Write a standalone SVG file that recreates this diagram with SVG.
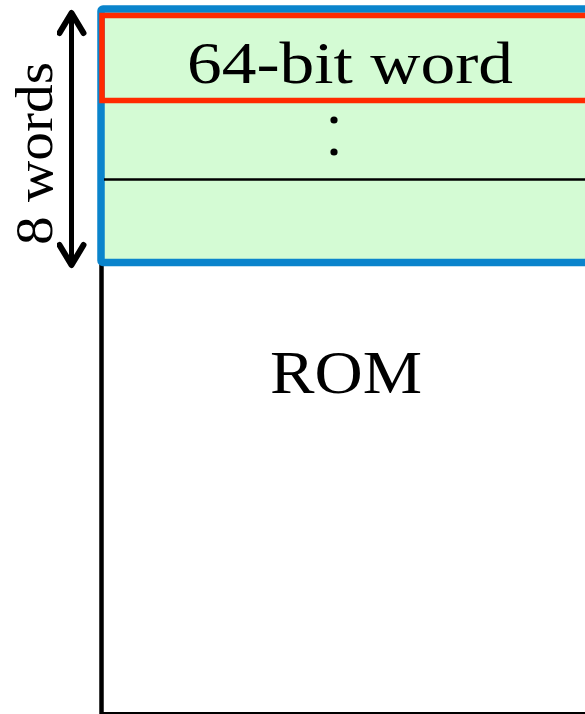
<svg xmlns="http://www.w3.org/2000/svg" width="585" height="714" viewBox="0 0 585 714">
  <style>
    .label { font-family: "Liberation Serif", "Times New Roman", serif; fill: #000; }
    .edge { fill: none; stroke: #000; }
  </style>
  <defs>
    <!-- open arrowhead, drawn pointing along +x -->
    <marker id="chevron" viewBox="0 0 28 30" refX="24" refY="15" markerWidth="28" markerHeight="30" markerUnits="userSpaceOnUse" orient="auto-start-reverse">
      <path d="M4,3 L24,15 L4,27" fill="none" stroke="#000" stroke-width="6" stroke-linecap="round" stroke-linejoin="round"/>
    </marker>
  </defs>
  <rect width="585" height="714" fill="#fff"/>

  <!-- ROM body outline -->
  <g id="rom">
    <line class="edge" x1="101.5" y1="262" x2="101.5" y2="714" stroke-width="4.5"/>
    <line class="edge" x1="100" y1="713" x2="585" y2="713" stroke-width="2"/>
    <text class="label" x="346" y="393" font-size="62" text-anchor="middle" textLength="152" lengthAdjust="spacingAndGlyphs">ROM</text>
  </g>

  <!-- cache line block: 8 words -->
  <g id="block">
    <rect x="101" y="9" width="500" height="253.5" rx="2" fill="#d4fbd4" stroke="#0a84cc" stroke-width="7.5"/>
    <line class="edge" x1="104" y1="179.5" x2="585" y2="179.5" stroke-width="2.5"/>
    <circle cx="334" cy="120" r="3.6" fill="#000"/>
    <circle cx="334" cy="152" r="3.6" fill="#000"/>
  </g>

  <!-- first word of the block -->
  <g id="word">
    <rect x="102" y="15.5" width="500" height="85" fill="none" stroke="#ff2a00" stroke-width="5.5"/>
    <text class="label" x="350" y="83" font-size="60" text-anchor="middle" textLength="326" lengthAdjust="spacingAndGlyphs">64-bit word</text>
  </g>

  <!-- block height dimension -->
  <g id="connectors">
    <path class="edge" d="M71.5,13 V265" stroke-width="5" marker-start="url(#chevron)" marker-end="url(#chevron)"/>
  </g>
  <g id="size-label">
    <text class="label" transform="translate(52,153.5) rotate(-90)" x="0" y="0" font-size="52" text-anchor="middle" textLength="183" lengthAdjust="spacingAndGlyphs">8 words</text>
  </g>
</svg>
